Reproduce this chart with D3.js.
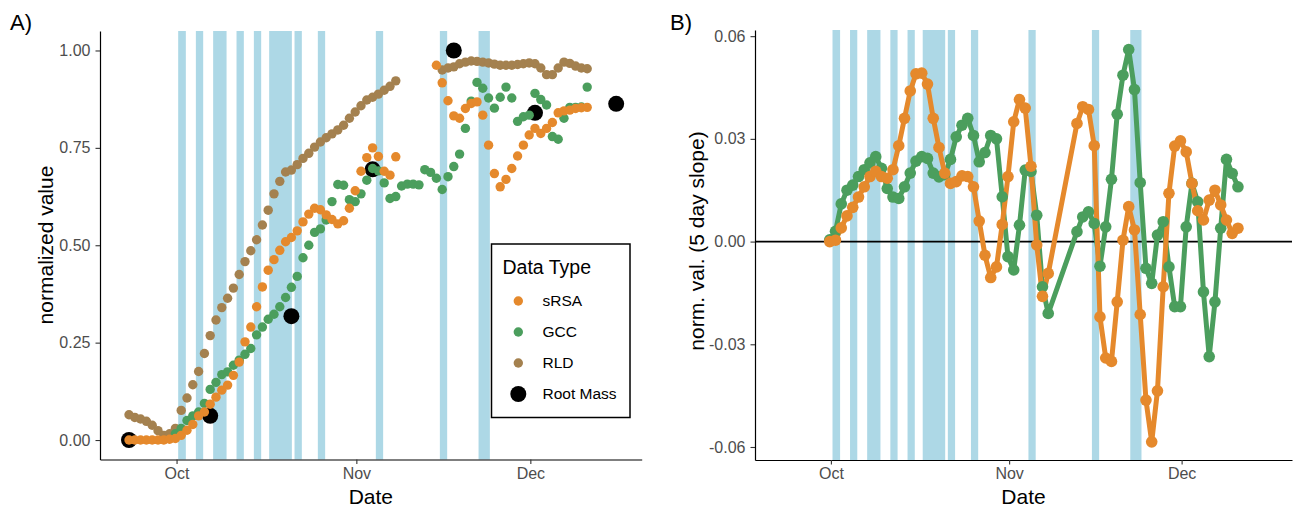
<!DOCTYPE html>
<html>
<head>
<meta charset="utf-8">
<script src="https://cdn.jsdelivr.net/npm/d3@7"></script>
<style>
  body { margin: 0; background: #fff; }
  text { font-family: "Liberation Sans", Arial, sans-serif; }
</style>
</head>
<body>
<svg id="chart" width="1293" height="510"></svg>
<script>
// ---- data (days are counted from Oct 1) ----
const startA = -8.2;   // first daily sample, panel A
const startB = -0.2;   // first daily sample, panel B

const srsaA = [0, 0, 0, 0, 0, 0, 0, 0.002, 0.004, 0.012, 0.025, 0.040, 0.062, 0.072, 0.092, 0.110,
  0.128, 0.141, 0.166, 0.200, 0.252, 0.290, 0.342, 0.393, 0.436, 0.463, 0.487, 0.509,
  0.520, 0.537, 0.560, 0.580, 0.595, 0.591, 0.578, 0.566, 0.555, 0.563, 0.595, 0.640, 0.690,
  0.725, 0.750, 0.728, 0.690, 0.680, 0.727,
  null, null, null, null, null, null,
  0.962, 0.917, 0.871, 0.832, 0.826, 0.851, 0.864, 0.868, 0.834, 0.757, 0.684, 0.650, 0.669,
  0.697, 0.729, 0.757, 0.783, 0.800, 0.787, 0.800, 0.815, 0.840, 0.845, 0.847, 0.851, 0.853, 0.854];

const gccA = [null, null, null, null, null, null, null, null,
  0.016, 0.030, 0.050, 0.062, 0.072, 0.094, 0.130, 0.148, 0.168, 0.175, 0.192, 0.205, 0.220,
  0.235, 0.270, 0.290, 0.310, 0.323, 0.342, 0.366, 0.392, 0.420, 0.468, 0.500, 0.533, 0.542,
  0.565, 0.612, 0.656, 0.654, 0.617, 0.612, 0.632, 0.667, 0.697, 0.691, 0.660, 0.620, 0.625,
  0.652, 0.657, 0.657, 0.655, 0.694, 0.687, 0.672, 0.643, 0.676, 0.702, 0.734, 0.800, 0.870,
  0.918, 0.903, 0.878, 0.852, 0.880, 0.906, 0.878, 0.818, 0.830, 0.834, 0.890, 0.874, 0.860,
  0.779, 0.772, 0.826, 0.854, 0.854, 0.855, 0.906];

const rldA = [0.065, 0.058, 0.054, 0.048, 0.038, 0.024, 0.012, 0.016, 0.030,
  0.076, 0.108, 0.142, 0.176, 0.222, 0.268, 0.308, 0.340, 0.364, 0.390,
  0.425, 0.458, 0.486, 0.514, 0.552, 0.590, 0.632, 0.664, 0.688,
  0.693, 0.707, 0.723, 0.736, 0.752, 0.765, 0.776, 0.786, 0.796,
  0.808, 0.826, 0.842, 0.858, 0.873, 0.880, 0.888, 0.898, 0.908, 0.922,
  null, null, null, null, null, null, null,
  0.950, 0.955, 0.958, 0.966, 0.970, 0.973, 0.972, 0.970, 0.968, 0.965, 0.962, 0.962, 0.962,
  0.964, 0.966, 0.968, 0.966, 0.955, 0.938, 0.938, 0.955, 0.970, 0.967, 0.960, 0.955, 0.953];

const rootMassDay = [-8.2, 5.8, 19.8, 33.8, 47.8, 61.8, 75.8];
const rootMassVal = [0, 0.062, 0.318, 0.695, 1.0, 0.840, 0.863];

const srsaB = [0, 0.0004, 0.004, 0.0075, 0.010, 0.013, 0.016, 0.019, 0.0205, 0.019,
  0.0185, 0.021, 0.028, 0.036, 0.044, 0.049, 0.0492, 0.046, 0.036, 0.0275,
  0.020, 0.017, 0.0175, 0.0192, 0.019, 0.016, 0.006, -0.004, -0.0105, -0.0074,
  0.005, 0.019, 0.035, 0.0415, 0.039, 0.022, -0.001, -0.016, -0.0093,
  null, null, null, null,
  0.0345, 0.0394, 0.0386, 0.028, -0.022, -0.034, -0.035, -0.0176, 0.0004, 0.0102,
  0.0034, -0.0213, -0.0463, -0.0585, -0.0436, -0.0132, 0.0141, 0.0279, 0.0294,
  0.0262, 0.017, 0.009, 0.0063, 0.0121, 0.015, 0.0107, 0.0063, 0.0024, 0.0039];

const gccB = [0.0005, 0.003, 0.011, 0.015, 0.0165, 0.019, 0.021, 0.023, 0.0248, 0.0214,
  0.0155, 0.013, 0.0126, 0.016, 0.020, 0.0235, 0.0248, 0.0243, 0.020, 0.0189,
  0.0195, 0.024, 0.0306, 0.034, 0.036, 0.031, 0.0233, 0.026, 0.031, 0.030,
  0.0131, -0.0044, -0.0083, 0.0048, 0.0209, 0.0205, 0.0077, -0.0132, -0.021,
  null, null, null, null,
  0.0029, 0.0072, 0.0087, 0.0053, -0.0072, 0.0043, 0.0182, 0.0372, 0.0486, 0.0561,
  0.0444, 0.0172, -0.0078, -0.0122, 0.0019, 0.0058, -0.0074, -0.019, -0.019,
  0.0043, 0.017, 0.0116, -0.0147, -0.0336, -0.0176, 0.0039, 0.024, 0.0199, 0.016];

// rain / irrigation periods
const rainStart = [0.28, 3.33, 6.31, 10.34, 13.33, 15.97, 20.34, 24.36, 34.36, 45.40, 52.07];
const rainEnd   = [1.60, 4.59, 8.62, 11.60, 14.59, 19.88, 21.60, 25.62, 35.62, 46.66, 54.02];

const monthTicks = ['2019-10-01', '2019-11-01', '2019-12-01'];
const ticksA = [0, 0.25, 0.5, 0.75, 1];
const ticksB = [-0.06, -0.03, 0, 0.03, 0.06];
const legendLabels = ['sRSA', 'GCC', 'RLD', 'Root Mass'];

// ---- setup ----
const colors = { sRSA: '#E5892C', GCC: '#4B9E5D', RLD: '#A4814F', root: '#000000', rain: '#ADD8E6' };
const DAY = 864e5;
const oct1 = Date.UTC(2019, 9, 1);
const dayDate = d => new Date(oct1 + d * DAY);
const toPoints = (vals, start) => vals
    .map((v, i) => ({ date: dayDate(start + i), v: v }))
    .filter(p => p.v !== null);
// ggplot prints a plain hyphen for negatives
const fmt2 = v => d3.format('.2f')(v).replace('\u2212', '-');

const svg = d3.select('#chart');
const tickFont = '16px', titleFont = '21px', legTitleFont = '19.5px', legFont = '15.5px';

const xA = d3.scaleUtc().domain([dayDate(-13.2), dayDate(80.2)]).range([100, 641.7]);
const yA = d3.scaleLinear().domain([-0.05, 1.05]).range([459.5, 31]);
const xB = d3.scaleUtc().domain([dayDate(-13.2), dayDate(80.2)]).range([755, 1292]);
const yB = d3.scaleLinear().domain([-0.0638, 0.0618]).range([460, 30]);

function drawRain(g, x, y) {
    g.append('g').selectAll('rect')
        .data(rainStart.map((s, i) => [s, rainEnd[i]]))
        .join('rect')
        .attr('x', d => x(dayDate(d[0])))
        .attr('width', d => x(dayDate(d[1])) - x(dayDate(d[0])))
        .attr('y', y.range()[1])
        .attr('height', y.range()[0] - y.range()[1])
        .attr('fill', colors.rain);
}

function drawAxes(g, x, y, yTicks) {
    const xAxis = g.append('g')
        .attr('transform', `translate(0,${y.range()[0]})`)
        .call(d3.axisBottom(x)
            .tickValues(monthTicks.map(s => new Date(s + 'T00:00:00Z')))
            .tickFormat(d3.utcFormat('%b'))
            .tickSize(4.5).tickSizeOuter(0).tickPadding(3.5));
    const yAxis = g.append('g')
        .attr('transform', `translate(${x.range()[0]},0)`)
        .call(d3.axisLeft(y)
            .tickValues(yTicks)
            .tickFormat(fmt2)
            .tickSize(4.5).tickSizeOuter(0).tickPadding(5));
    [xAxis, yAxis].forEach(a => {
        a.select('.domain').attr('stroke', '#000').attr('stroke-width', 1.2);
        a.selectAll('.tick line').attr('stroke', '#333').attr('stroke-width', 1.1);
        a.selectAll('.tick text')
            .attr('fill', '#4D4D4D')
            .style('font-size', tickFont)
            .style('font-family', '"Liberation Sans", Arial, sans-serif');
    });
}

// ---- panel A ----
const gA = svg.append('g');
drawRain(gA, xA, yA);

gA.append('g').selectAll('circle')
    .data(rootMassDay.map((d, i) => ({ date: dayDate(d), v: rootMassVal[i] })))
    .join('circle')
    .attr('cx', d => xA(d.date)).attr('cy', d => yA(d.v)).attr('r', 8)
    .attr('fill', colors.root);

[[rldA, colors.RLD], [gccA, colors.GCC], [srsaA, colors.sRSA]].forEach(([vals, col]) => {
    gA.append('g').selectAll('circle')
        .data(toPoints(vals, startA))
        .join('circle')
        .attr('cx', d => xA(d.date)).attr('cy', d => yA(d.v)).attr('r', 4.7)
        .attr('fill', col);
});

drawAxes(gA, xA, yA, ticksA);

gA.append('text').attr('x', 46).attr('y', 245)
    .attr('transform', 'rotate(-90,46,245)')
    .attr('text-anchor', 'middle').attr('dy', '0.35em')
    .style('font-size', titleFont).text('normalized value');
gA.append('text').attr('x', d3.mean(xA.range())).attr('y', 504)
    .attr('text-anchor', 'middle').style('font-size', titleFont).text('Date');
gA.append('text').attr('x', 10).attr('y', 30).style('font-size', '22px').text('A)');

// legend
const leg = gA.append('g');
leg.append('rect').attr('x', 491.5).attr('y', 244).attr('width', 138.5).attr('height', 173.5)
    .attr('fill', '#fff').attr('stroke', '#000').attr('stroke-width', 1.5);
leg.append('text').attr('x', 502.5).attr('y', 273.5).style('font-size', legTitleFont).text('Data Type');
const legColors = [colors.sRSA, colors.GCC, colors.RLD, colors.root];
legendLabels.forEach((lab, i) => {
    const cy = 301 + i * 31;
    leg.append('circle').attr('cx', 518.3).attr('cy', cy).attr('r', i === 3 ? 8 : 4.7)
        .attr('fill', legColors[i]);
    leg.append('text').attr('x', 542.5).attr('y', cy).attr('dy', '0.35em')
        .style('font-size', legFont).text(lab);
});

// ---- panel B ----
const gB = svg.append('g');
drawRain(gB, xB, yB);

gB.append('line')
    .attr('x1', xB.range()[0]).attr('x2', xB.range()[1])
    .attr('y1', yB(0)).attr('y2', yB(0))
    .attr('stroke', '#000').attr('stroke-width', 1.6);

const lineB = d3.line().x(d => xB(d.date)).y(d => yB(d.v));
const seriesB = [[gccB, colors.GCC], [srsaB, colors.sRSA]];
seriesB.forEach(([vals, col]) => {
    gB.append('path').datum(toPoints(vals, startB))
        .attr('d', lineB).attr('fill', 'none')
        .attr('stroke', col).attr('stroke-width', 5).attr('stroke-linejoin', 'round');
});
seriesB.forEach(([vals, col]) => {
    gB.append('g').selectAll('circle')
        .data(toPoints(vals, startB))
        .join('circle')
        .attr('cx', d => xB(d.date)).attr('cy', d => yB(d.v)).attr('r', 5.8)
        .attr('fill', col);
});

drawAxes(gB, xB, yB, ticksB);

gB.append('text').attr('x', 697).attr('y', 241)
    .attr('transform', 'rotate(-90,697,241)')
    .attr('text-anchor', 'middle').attr('dy', '0.35em')
    .style('font-size', titleFont).text('norm. val. (5 day slope)');
gB.append('text').attr('x', d3.mean(xB.range())).attr('y', 504)
    .attr('text-anchor', 'middle').style('font-size', titleFont).text('Date');
gB.append('text').attr('x', 670).attr('y', 30).style('font-size', '22px').text('B)');
</script>
</body>
</html>
